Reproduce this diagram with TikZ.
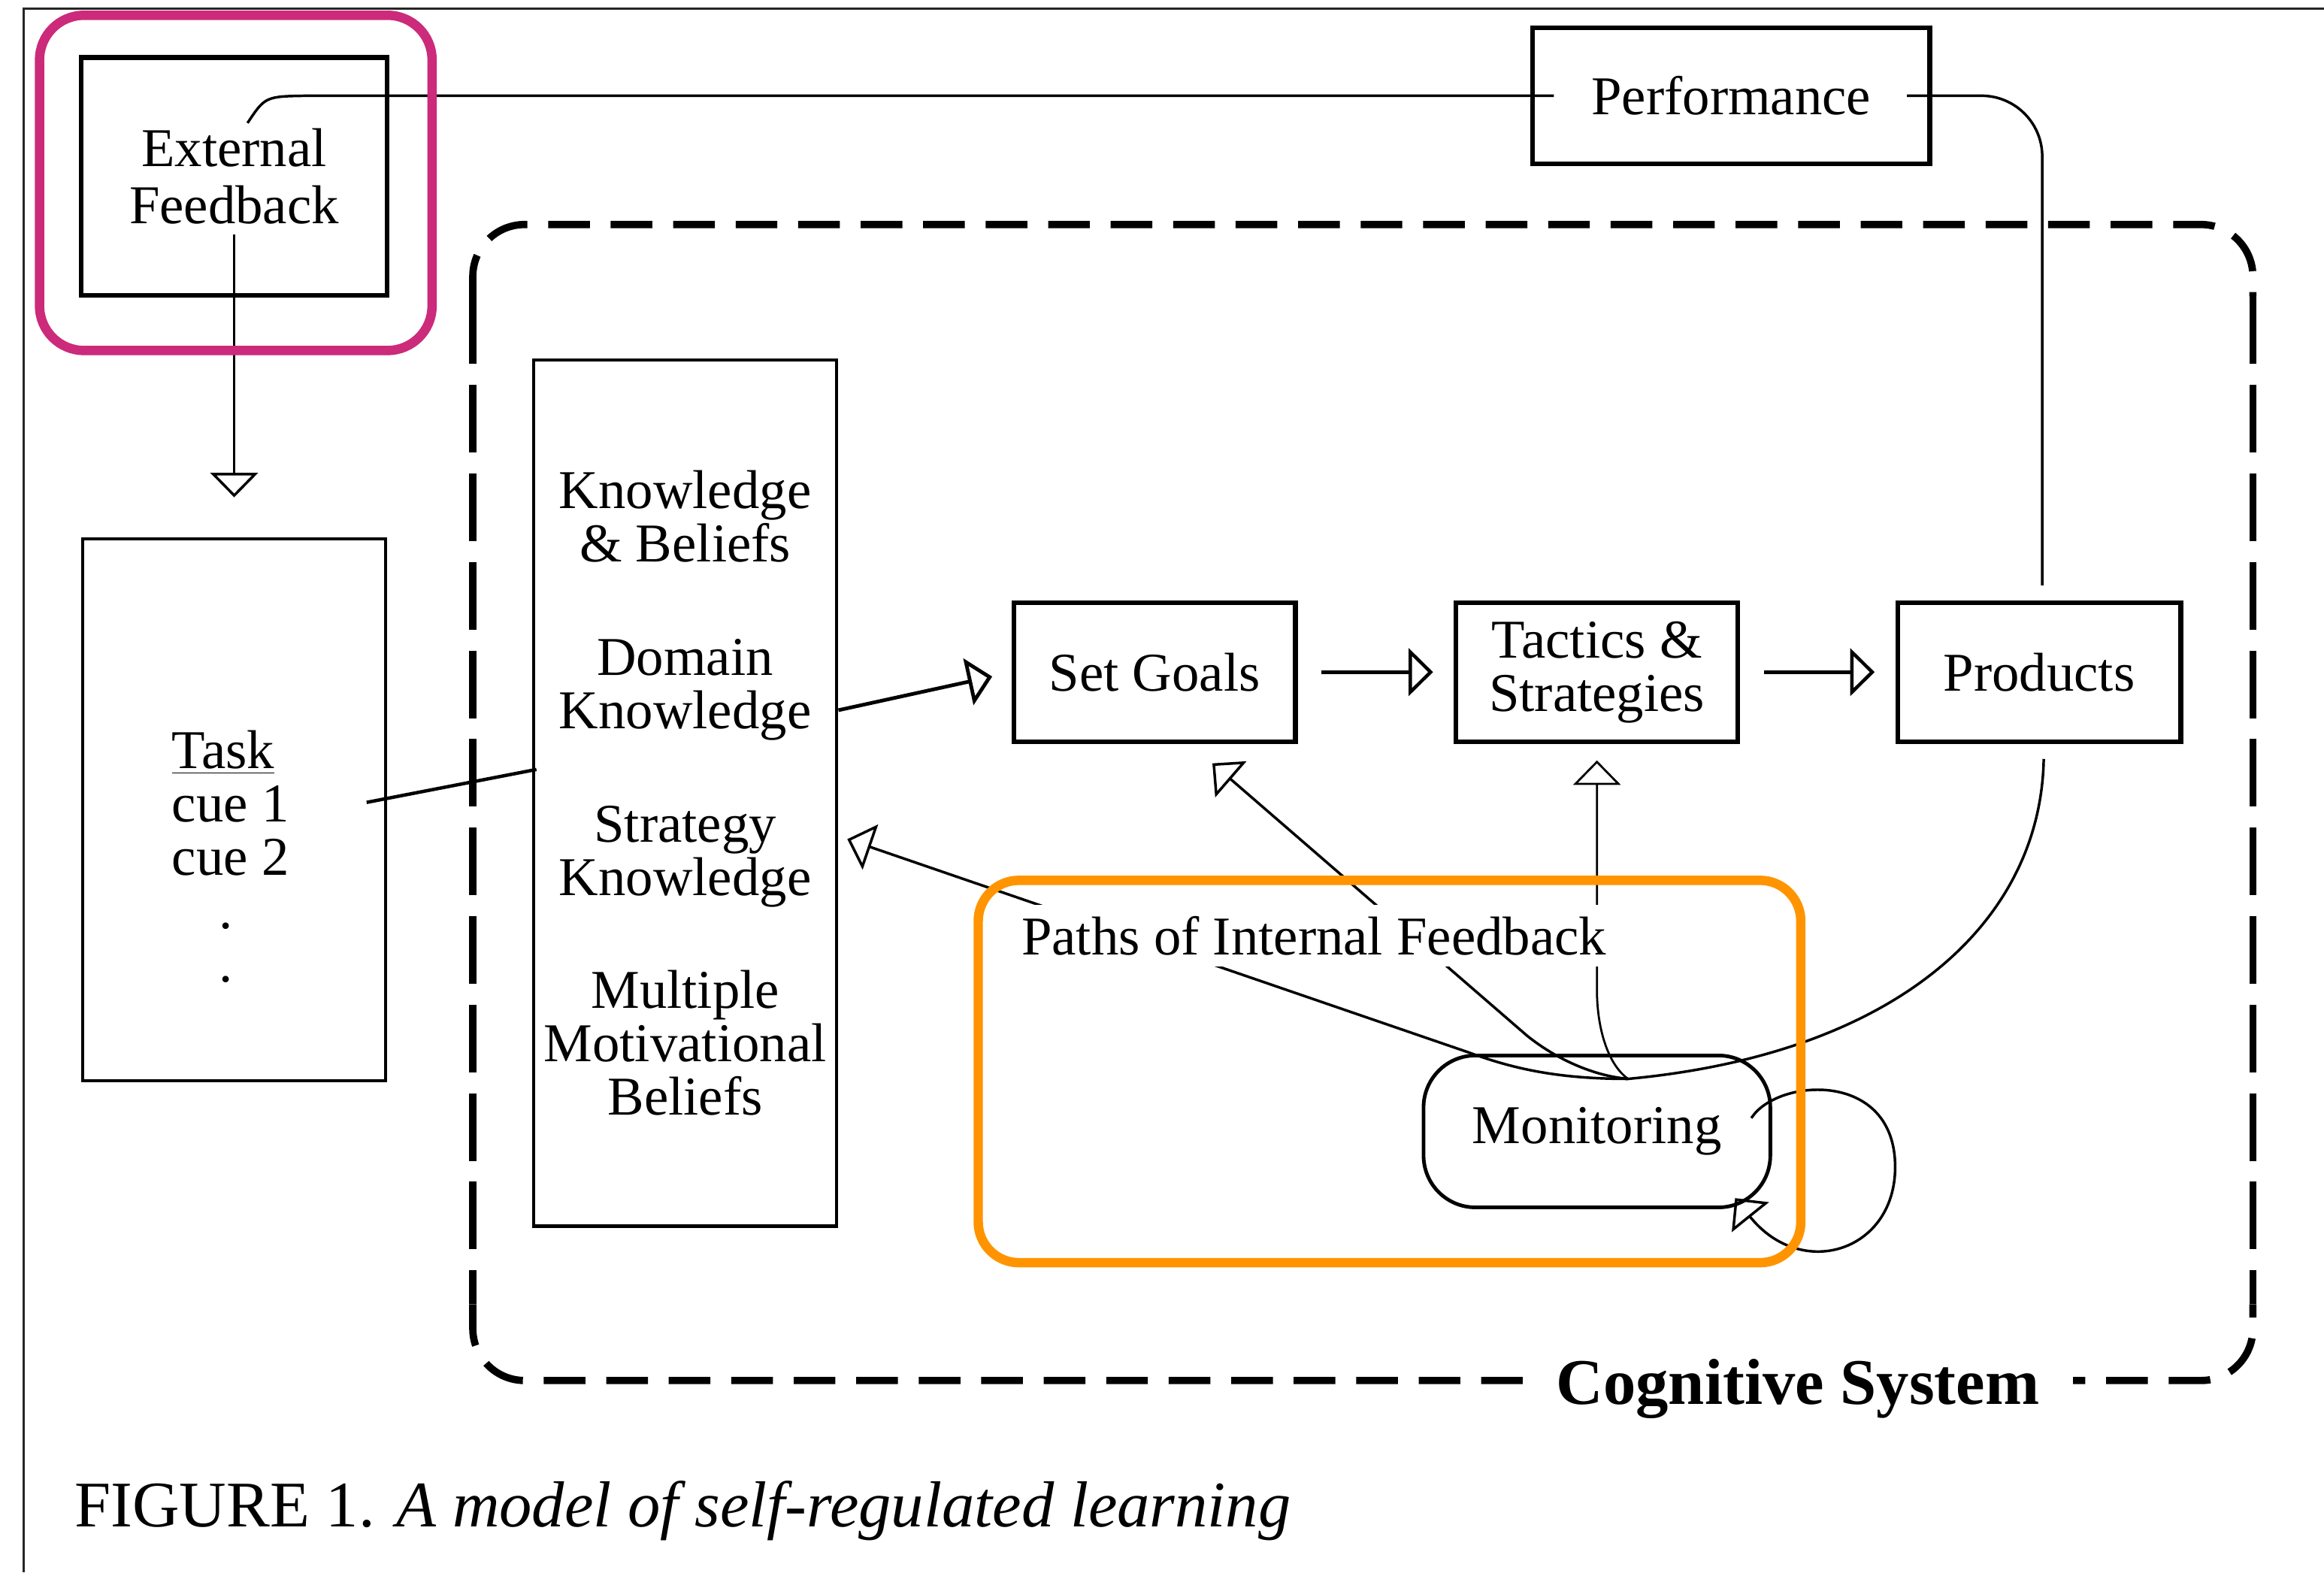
\documentclass[tikz,border=0pt]{standalone}
\usepackage{fontspec}
\setmainfont{Liberation Serif}
\usetikzlibrary{arrows.meta}
\usetikzlibrary{calc}
\usetikzlibrary{positioning}
\definecolor{hlmagenta}{RGB}{204,42,122}
\definecolor{hlorange}{RGB}{255,148,0}

\begin{document}
\begin{tikzpicture}[x=0.02cm,y=-0.02cm,inner sep=0pt,node distance=5.97cm,>={Triangle[open,length=0.33cm,width=0.64cm]},
  font=\fontsize{21pt}{20.5pt}\selectfont,
  box/.style={draw,line width=1.8pt,align=center,minimum height=1.88cm},
  tallbox/.style={draw,line width=1.3pt,align=center,minimum width=4.09cm},
  conn/.style={line width=1pt},
  cogline/.style={line width=2.8pt},
  highlight/.style={line width=3.6pt,rounded corners=0.6cm}]
\useasboundingbox (0,0) rectangle (1568,1061);
\draw [line width=0.9pt,black!85] (16,1061) |- (1568,6);

\draw (158,119) node [box,minimum width=4.13cm,minimum height=3.21cm,font=\fontsize{21pt}{22pt}\selectfont] (ef) {External\\Feedback};
\draw node [tallbox,minimum height=7.31cm] [node distance=8.55cm,below of=ef] (task) {};
\draw (115.7,492.7) node [anchor=north west,align=left] (cues) {\underline{Task}\\cue 1\\cue 2\\\hspace*{18pt}.\\\hspace*{18pt}.};
\draw (462.3,535.2) node [tallbox,minimum height=11.69cm] (know) {Knowledge\\\& Beliefs\\[23pt]Domain\\Knowledge\\[23pt]Strategy\\Knowledge\\[23pt]Multiple\\Motivational\\Beliefs};
\draw (1168,64.6) node [box,minimum width=5.36cm,minimum height=1.84cm] (perf) {Performance};
\draw (779,453.5) node [box,minimum width=3.8cm] (goals) {Set Goals};
\draw node [box,minimum width=3.8cm] [right of=goals] (tact) {Tactics \&\\Strategies};
\draw node [box,minimum width=3.82cm] [right of=tact] (prod) {Products};
\draw node [draw,line width=1.4pt,rounded corners=0.7cm,minimum width=4.68cm,minimum height=2.05cm] [node distance=6.2cm,below of=tact] (mon) {Monitoring};
\coordinate (hub) at ($(mon.north)+(21,17)$);

\draw [cogline,dash pattern=on 16pt off 8pt,rounded corners=0.7cm] (319,200) |- (1520,151.5) -- (1520,200);
\draw [cogline,dash pattern=on 16pt off 8pt,rounded corners=0.7cm] (319,880) |- (1520,931.5) -- (1520,880);
\draw [cogline,dash pattern=on 26pt off 8pt] (319,200) -- (319,880) (1520,200) -- (1520,880);
\draw (1213,937) node [fill=white,inner xsep=0.45cm,inner ysep=0.1cm,font=\fontsize{25pt}{30pt}\selectfont\bfseries] (cog) {Cognitive System};

\draw [conn] ($(ef.center)+(9,-36)$) .. controls ($(ef.center)+(21,-54)$) .. ($(ef.center |- perf.west)+(50,0)$) -- ($(perf.west)+(16,0)$);
\draw [conn,rounded corners=0.82cm] ($(perf.east)+(-17,0)$) -| ($(prod.north)+(2,-10)$);
\draw [conn,->] ($(ef.center)+(0,39)$) -- ($(task.north)+(0,-27)$);
\draw [conn,line width=1.3pt] ($(task.east)+(-14,-5)$) -- ($(know.west)+(3,-16)$);
\draw [conn,line width=1.4pt,->] ($(know.east)+(0,-56)$) -- ($(goals.west)+(-13,3)$);
\draw [conn,line width=1.3pt,->] ($(goals.east)+(16,0)$) -- ($(tact.west)+(-14,0)$);
\draw [conn,line width=1.3pt,->] ($(tact.east)+(16,0)$) -- ($(prod.west)+(-14,0)$);
\draw [conn] ($(prod.south)+(3,10)$) .. controls +(-2,110) and +(182,-17) .. (hub);
\draw [conn,->] (hub) .. controls +(-48,0) and +(30,11) .. ($(hub)+(-108,-18)$) -- ($(know.east)+(6,31)$);
\draw [conn,->] (hub) .. controls +(-23,-2) and +(20,16) .. ($(hub)+(-68,-29)$) -- ($(goals.south)+(39,13)$);
\draw [conn,line width=0.8pt,->] (hub) .. controls +(-14,-10) and +(0,25) .. ($(hub)+(-21,-60)$) -- ($(tact.south)+(0,11)$);
\draw [conn,->] ($(mon.east)+(-14,-9)$) .. controls +(17,-27) and +(0,-66) .. ($(mon.east)+(83,24)$) .. controls +(0,57) and +(45,56) .. ($(mon.east)+(-25,45)$);
\draw (886.5,631.4) node [fill=white,inner sep=0.15cm] (pathslbl) {Paths of Internal Feedback};

\draw (50,1030) node [anchor=base west,font=\fontsize{25pt}{30pt}\selectfont] (caption) {FIGURE 1. \textit{A model of self-regulated learning}};

\draw [highlight,hlmagenta] (26.7,10.3) rectangle (291.5,236.5);
\draw [highlight,hlorange,rounded corners=0.55cm] (660,594) rectangle (1215,852);
\end{tikzpicture}
\end{document}
